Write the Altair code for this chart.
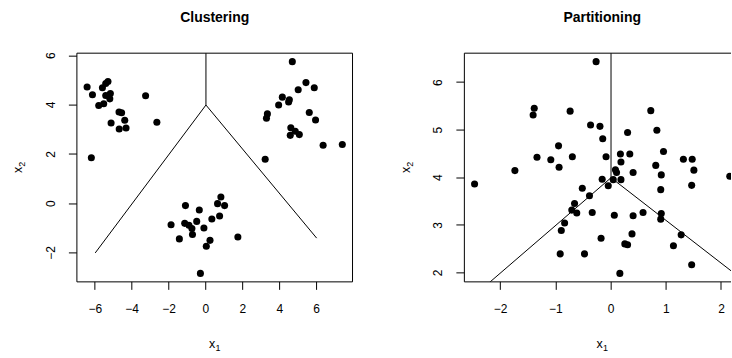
import altair as alt
import pandas as pd

# Three well separated groups of observations
clust_x1 = [-6.44, -6.15, -5.61, -5.43, -5.31, -5.18, -5.43, -5.21, -5.81, -5.54,
            -4.71, -4.57, -4.40, -5.14, -4.70, -4.33, -3.27, -2.66, -6.21,
            4.68, 5.42, 5.87, 5.00, 4.14, 4.48, 4.52, 3.94, 3.33, 3.28,
            5.60, 5.94, 4.60, 4.84, 5.06, 4.57, 6.35, 7.39, 3.21,
            0.81, 0.63, 1.01, -1.11, -0.36, 0.32, 0.74, -0.50, -1.89, -1.15,
            -0.92, -0.76, -0.11, -1.44, -0.73, 0.22, 0.02, 1.73, -0.30]
clust_x2 = [4.73, 4.42, 4.70, 4.87, 4.95, 4.47, 4.39, 4.25, 3.98, 4.05,
            3.72, 3.69, 3.38, 3.27, 3.03, 3.07, 4.38, 3.30, 1.86,
            5.76, 4.91, 4.70, 4.62, 4.32, 4.12, 4.21, 4.00, 3.64, 3.46,
            3.70, 3.39, 3.08, 2.94, 2.80, 2.77, 2.37, 2.40, 1.80,
            0.27, 0.00, -0.08, -0.08, -0.26, -0.62, -0.50, -0.72, -0.86, -0.80,
            -0.88, -1.01, -0.99, -1.43, -1.25, -1.49, -1.73, -1.35, -2.83]

# One diffuse cloud of observations
part_x1 = [-0.27, -1.39, -1.41, -0.74, 0.72, -0.37, -0.20, 0.30, 0.83, -0.15,
           -0.95, -1.34, -1.09, -0.70, -0.09, 0.17, 0.34, 0.95, 0.18, 0.81,
           1.31, 1.47, -0.94, -1.74, 0.08, 0.10, 0.40, 0.91, 1.50, 2.15,
           -2.47, -0.16, 0.04, 0.18, -0.05, -0.52, -0.39, 0.90, 1.46, -0.66,
           -0.71, -0.62, -0.34, 0.06, 0.40, 0.58, 0.91, 0.90, -0.84, -0.90,
           -0.18, 0.38, 0.25, 0.30, 1.27, 1.13, -0.92, -0.48, 1.46, 0.16]
part_x2 = [6.44, 5.46, 5.32, 5.40, 5.41, 5.11, 5.08, 4.95, 5.00, 4.82,
           4.67, 4.43, 4.38, 4.44, 4.44, 4.50, 4.50, 4.55, 4.33, 4.26,
           4.39, 4.39, 4.22, 4.15, 4.17, 4.11, 4.11, 4.06, 4.16, 4.03,
           3.87, 3.97, 3.96, 3.96, 3.83, 3.78, 3.62, 3.75, 3.84, 3.46,
           3.32, 3.26, 3.27, 3.21, 3.20, 3.27, 3.25, 3.13, 3.05, 2.89,
           2.73, 2.82, 2.61, 2.59, 2.80, 2.57, 2.40, 2.40, 2.17, 1.99]

# Boundary segments radiating from the common vertex
seg_x1_start = [0, 0, 0]
seg_x2_start = [4, 4, 4]
seg_x1_end = [-6, 6, 0]
seg_x2_end = [-2, -1.4, 10]

titles = ["Clustering", "Partitioning"]
ticks_left_x = [-6, -4, -2, 0, 2, 4, 6]
ticks_left_y = [-2, 0, 2, 4, 6]
ticks_right_x = [-2, -1, 0, 1, 2]
ticks_right_y = [2, 3, 4, 5, 6]

FONT = "Liberation Sans"
W_FULL = 276      # plot region width of each panel
W_RIGHT = 267     # visible part of the right panel
H = 229
LEFT_PAD = 76.5
TOP_PAD = 52.5
TOTAL_H = 358


def padded(vals):
    lo, hi = min(vals), max(vals)
    d = 0.04 * (hi - lo)
    return [lo - d, hi + d]


pts_left = pd.DataFrame({"x1": clust_x1, "x2": clust_x2})
pts_right = pd.DataFrame({"x1": part_x1, "x2": part_x2})
segs = pd.DataFrame({"a1": seg_x1_start, "a2": seg_x2_start,
                     "b1": seg_x1_end, "b2": seg_x2_end})
one = pd.DataFrame({"k": [0]})


def x_axis(ticks):
    return alt.Axis(values=ticks, title="",
                    labelBaseline="alphabetic", labelPadding=23.5,
                    labelFlush=False, labelOverlap=False)


def y_axis(ticks):
    return alt.Axis(values=ticks, title="",
                    labelAngle=270, labelAlign="center", labelBaseline="alphabetic",
                    labelPadding=14, labelFlush=False, labelOverlap=False)


def subscripted(base, sub, x, y, angle):
    """Variable name with a lowered, smaller index, e.g. x with index 1."""
    common = dict(font=FONT, color="black", align="left", baseline="alphabetic", angle=angle)
    main = alt.Chart(one).mark_text(fontSize=12.5, dx=-5.6, **common).encode(
        x=alt.value(x), y=alt.value(y), text=alt.value(base))
    index = alt.Chart(one).mark_text(fontSize=9, dx=0.8, dy=3, **common).encode(
        x=alt.value(x), y=alt.value(y), text=alt.value(sub))
    return [main, index]


def panel(pts, xdom, ydom, xt, yt, width, title):
    xs = alt.Scale(domain=xdom, nice=False, zero=False)
    ys = alt.Scale(domain=ydom, nice=False, zero=False)
    points = alt.Chart(pts).mark_circle(size=50, opacity=1, color="black", clip=True).encode(
        x=alt.X("x1:Q", scale=xs, axis=x_axis(xt)),
        y=alt.Y("x2:Q", scale=ys, axis=y_axis(yt)),
    )
    lines = alt.Chart(segs).mark_rule(color="black", strokeWidth=1, clip=True).encode(
        x=alt.X("a1:Q", scale=xs, axis=x_axis(xt)),
        y=alt.Y("a2:Q", scale=ys, axis=y_axis(yt)),
        x2="b1:Q",
        y2="b2:Q",
    )
    heading = alt.Chart(one).mark_text(
        font=FONT, fontSize=14, fontWeight="bold", color="black",
        align="center", baseline="alphabetic",
    ).encode(x=alt.value(W_FULL / 2), y=alt.value(-31), text=alt.value(title))
    xlab = subscripted("x", "1", W_FULL / 2, H + 66.5, 0)
    ylab = subscripted("x", "2", -54.5, H / 2, 270)
    return alt.layer(points, lines, heading, *xlab, *ylab).properties(width=width, height=H)


left = panel(pts_left, padded(clust_x1), padded(clust_x2),
             ticks_left_x, ticks_left_y, W_FULL, titles[0])
frame_left = alt.Chart(one).mark_rect(filled=False, stroke="black", strokeWidth=1).encode(
    x=alt.value(0), x2=alt.value(W_FULL), y=alt.value(0), y2=alt.value(H))
# invisible rule pinning the outer bounds of the figure
anchor = alt.Chart(one).mark_rule(strokeOpacity=0, opacity=0).encode(
    x=alt.value(-LEFT_PAD), y=alt.value(-TOP_PAD), y2=alt.value(TOTAL_H - TOP_PAD))
left = alt.layer(left, frame_left, anchor)

rx = padded(part_x1)
rx_visible = [rx[0], rx[0] + (rx[1] - rx[0]) * W_RIGHT / W_FULL]
right = panel(pts_right, rx_visible, padded(part_x2),
              ticks_right_x, ticks_right_y, W_RIGHT, titles[1])
top_edge = alt.Chart(one).mark_rule(color="black", strokeWidth=1).encode(
    x=alt.value(0), x2=alt.value(W_RIGHT), y=alt.value(0))
bottom_edge = alt.Chart(one).mark_rule(color="black", strokeWidth=1).encode(
    x=alt.value(0), x2=alt.value(W_RIGHT), y=alt.value(H))
left_edge = alt.Chart(one).mark_rule(color="black", strokeWidth=1).encode(
    x=alt.value(0), y=alt.value(0), y2=alt.value(H))
right = alt.layer(right, top_edge, bottom_edge, left_edge)

chart = alt.hconcat(left, right, spacing=112, bounds="flush").properties(
    padding=0, background="white"
).configure_view(
    strokeOpacity=0
).configure_axis(
    domain=False, grid=False, ticks=True, tickSize=8, tickWidth=1, tickColor="black",
    labelFont=FONT, labelFontSize=12, labelColor="black",
    translate=0,
)

chart.save("out.html", embed_options={"renderer": "svg", "actions": False})
